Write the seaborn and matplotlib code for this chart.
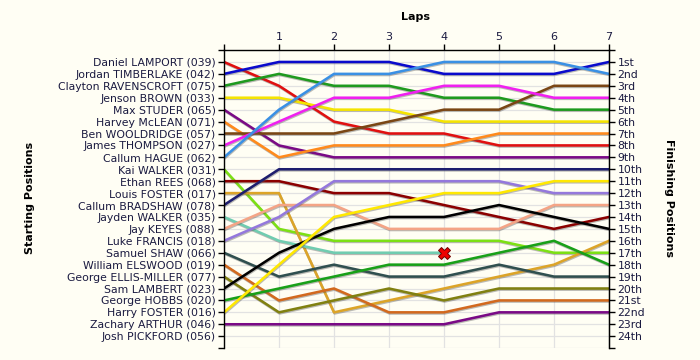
import matplotlib
matplotlib.use("Agg")
import matplotlib.pyplot as plt
import matplotlib.patheffects as pe
import numpy as np
import pandas as pd
import seaborn as sns

# drivers in starting order
drivers = [
    "Daniel LAMPORT (039)", "Jordan TIMBERLAKE (042)", "Clayton RAVENSCROFT (075)",
    "Jenson BROWN (033)", "Max STUDER (065)", "Harvey McLEAN (071)",
    "Ben WOOLDRIDGE (057)", "James THOMPSON (027)", "Callum HAGUE (062)",
    "Kai WALKER (031)", "Ethan REES (068)", "Louis FOSTER (017)",
    "Callum BRADSHAW (078)", "Jayden WALKER (035)", "Jay KEYES (088)",
    "Luke FRANCIS (018)", "Samuel SHAW (066)", "William ELSWOOD (019)",
    "George ELLIS-MILLER (077)", "Sam LAMBERT (023)", "George HOBBS (020)",
    "Harry FOSTER (016)", "Zachary ARTHUR (046)", "Josh PICKFORD (056)",
]

# position of each driver (same order as drivers) at the end of each lap
lap_0 = list(range(1, 25))
lap_1 = [3, 1, 2, 4, 8, 9, 7, 6, 5, 15, 11, 12, 10, 16, 13, 14, 19, 21, 22, 17, 20, 18, 23, None]
lap_2 = [6, 1, 3, 5, 9, 8, 7, 4, 2, 16, 12, 22, 10, 17, 13, 11, 18, 20, 21, 15, 19, 14, 23, None]
lap_3 = [7, 1, 3, 5, 9, 8, 6, 4, 2, 16, 12, 21, 10, 17, 15, 11, 19, 22, 20, 14, 18, 13, 23, None]
lap_4 = [7, 2, 4, 6, 9, 8, 5, 3, 1, 16, 13, 20, 10, 17, 15, 11, 19, 22, 21, 14, 18, 12, 23, None]
lap_5 = [8, 2, 4, 6, 9, 7, 5, 3, 1, 16, 14, 19, 10, None, 15, 11, 18, 21, 20, 13, 17, 12, 22, None]
lap_6 = [8, 2, 5, 6, 9, 7, 3, 4, 1, 17, 15, 18, 10, None, 13, 12, 19, 21, 20, 14, 16, 11, 22, None]
lap_7 = [8, 1, 5, 6, 9, 7, 3, 4, 2, 17, 14, 16, 10, None, 13, 12, 19, 21, 20, 15, 18, 11, 22, None]
laps = [lap_0, lap_1, lap_2, lap_3, lap_4, lap_5, lap_6, lap_7]

finish_labels = ["1st", "2nd", "3rd"] + [f"{i}th" for i in range(4, 21)] + ["21st", "22nd", "23rd", "24th"]

retired_driver = "Jayden WALKER (035)"
retired_lap = 4

colors = [
    "#E01010", "#0A0ACC", "#1E9A1E", "#F5E400", "#7A0A86", "#FF8A1C",
    "#7A4614", "#F020F0", "#3A90E4", "#7CE014", "#8B0000", "#DCA428",
    "#1E1E6E", "#70CCB0", "#F4A486", "#9478DC", "#2F4F4F", "#D2691E",
    "#808010", "#000000", "#18A018", "#FFE800", "#7A0A86", "#808080",
]

rows = []
for lap, positions in enumerate(laps):
    for d, p in zip(drivers, positions):
        rows.append({"lap": lap, "driver": d, "pos": np.nan if p is None else p})
df = pd.DataFrame(rows)
df = df[df["driver"] != drivers[-1]]  # did not take part after the grid

bg = "#FFFEF4"
txt = "#1a1a40"
fig = plt.figure(figsize=(7, 3.6), dpi=100, facecolor=bg)
ax = fig.add_axes([0.32, 0.033, 0.55, 0.828])
ax.set_facecolor(bg)

sns.lineplot(data=df, x="lap", y="pos", hue="driver", hue_order=drivers[:-1],
             palette=dict(zip(drivers, colors)), estimator=None, sort=False,
             linewidth=1.85, legend=False, ax=ax)
for line in ax.lines:
    line.set_path_effects([pe.SimpleLineShadow(offset=(0.4, -0.8), shadow_color="#555555", alpha=0.4),
                           pe.Normal()])

# retirement marker
ri = drivers.index(retired_driver)
ax.plot(retired_lap, laps[retired_lap][ri], marker="X", markersize=8.5,
        markerfacecolor="#EE0000", markeredgecolor="#700000", markeredgewidth=0.7, zorder=5)

ax.set_xlim(0, 7)
ax.set_ylim(25, 0)
ax.xaxis.tick_top()
ax.set_xticks(range(0, 8))
ax.set_xticklabels([""] + [str(i) for i in range(1, 8)], fontsize=8, color=txt)
ax.set_yticks(range(0, 26))
ax.set_yticklabels([""] + drivers + [""], fontsize=7.8, color=txt)
ax.set_xlabel("")
ax.set_ylabel("")
ax.tick_params(axis="both", length=4, width=1, color="black", pad=2)
ax.grid(True, color="#E2E2E2", linewidth=0.9)
ax.set_axisbelow(True)
ax.spines["bottom"].set_visible(False)
for s in ["left", "right", "top"]:
    ax.spines[s].set_color("black")
    ax.spines[s].set_linewidth(1)

ax2 = ax.twinx()
ax2.set_ylim(25, 0)
ax2.set_yticks(range(0, 26))
ax2.set_yticklabels([""] + finish_labels + [""], fontsize=7.8, color=txt)
ax2.tick_params(axis="y", length=4, width=1, color="black", pad=2)
for s in ["left", "top", "bottom"]:
    ax2.spines[s].set_visible(False)
ax2.spines["right"].set_color("black")

fig.text(0.593, 0.953, "Laps", ha="center", va="center", fontsize=8, fontweight="bold")
fig.text(0.043, 0.45, "Starting Positions", ha="center", va="center", rotation=90,
         fontsize=8, fontweight="bold")
fig.text(0.955, 0.45, "Finishing Positions", ha="center", va="center", rotation=270,
         fontsize=8, fontweight="bold")

fig.savefig("out.png", dpi=100, facecolor=bg)
